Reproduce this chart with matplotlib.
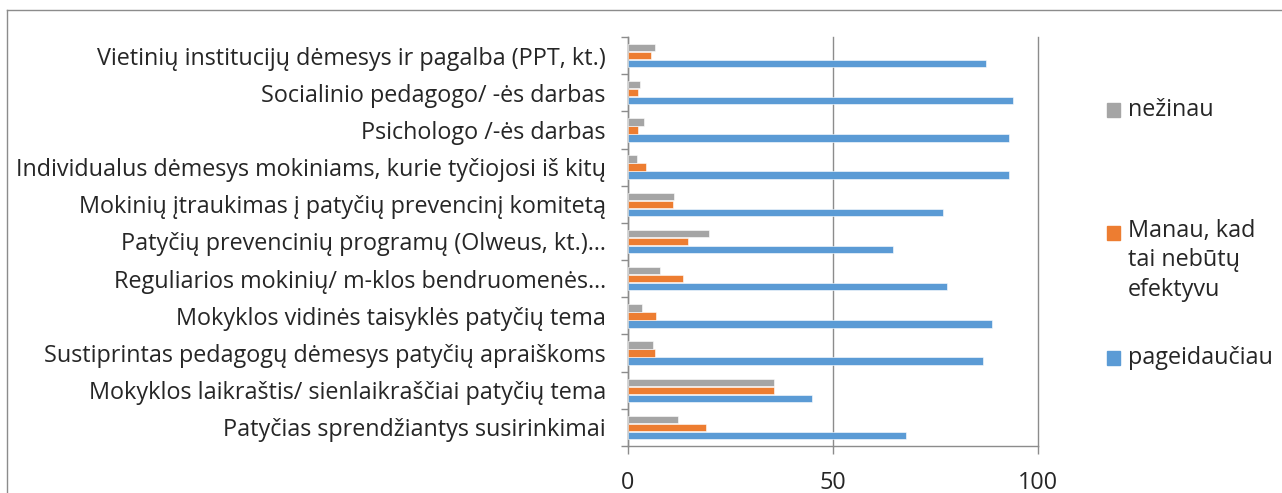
import numpy as np
import matplotlib.pyplot as plt
from matplotlib.patches import Rectangle
from matplotlib.lines import Line2D

# kategorijos (iš viršaus į apačią)
categories = [
    'Vietinių institucijų dėmesys ir pagalba (PPT, kt.)',
    'Socialinio pedagogo/ -ės darbas',
    'Psichologo /-ės darbas',
    'Individualus dėmesys mokiniams, kurie tyčiojosi iš kitų',
    'Mokinių įtraukimas į patyčių prevencinį komitetą',
    'Patyčių prevencinių programų (Olweus, kt.)…',
    'Reguliarios mokinių/ m-klos bendruomenės…',
    'Mokyklos vidinės taisyklės patyčių tema',
    'Sustiprintas pedagogų dėmesys patyčių apraiškoms',
    'Mokyklos laikraštis/ sienlaikraščiai patyčių tema',
    'Patyčias sprendžiantys susirinkimai',
]
pageidauciau = [87.3, 93.9, 92.9, 92.9, 76.9, 64.7, 77.9, 88.9, 86.7, 44.8, 67.8]
neefektyvu = [5.6, 2.5, 2.5, 4.4, 11.0, 14.7, 13.4, 6.9, 6.5, 35.7, 19.1]
nezinau = [6.5, 2.9, 3.8, 2.2, 11.3, 19.8, 7.8, 3.4, 6.0, 35.7, 12.2]

series = [
    ('pageidaučiau', pageidauciau, '#5B9BD5', -0.215),
    ('Manau, kad\ntai nebūtų\nefektyvu', neefektyvu, '#ED7D31', 0.0),
    ('nežinau', nezinau, '#A5A5A5', 0.215),
]

plt.rcParams['font.family'] = ['Open Sans', 'DejaVu Sans']
txt = '#262626'
grid = '#8C8C8C'
fs = 16.8

fig = plt.figure(figsize=(12.82, 4.93), dpi=100)
ax = fig.add_axes([628 / 1282, 1 - 446 / 493, 410 / 1282, 409 / 493])

n = len(categories)
y = np.arange(n)[::-1]  # pirmoji kategorija viršuje
for name, vals, col, off in series:
    ax.barh(y + off, vals, height=0.2, color=col, edgecolor='white', linewidth=0.4, zorder=3)

ax.set_xlim(0, 100)
ax.set_ylim(-0.5, n - 0.5)
ax.set_xticks([0, 50, 100])
ax.set_yticks(y)
ax.set_yticklabels(categories, fontsize=fs, color=txt)
ax.set_yticks(np.arange(n + 1) - 0.5, minor=True)
ax.tick_params(axis='y', which='major', length=0, pad=16)
ax.tick_params(axis='y', which='minor', length=5, color=grid, width=1)
ax.tick_params(axis='x', length=6, color=grid, width=1, pad=12, labelsize=fs, labelcolor=txt)

ax.grid(axis='x', color=grid, linewidth=1, zorder=0)
for gl in ax.get_xgridlines():
    gl.set_clip_on(False)
for s in ['top', 'right']:
    ax.spines[s].set_visible(False)
for s in ['left', 'bottom']:
    ax.spines[s].set_color(grid)
    ax.spines[s].set_linewidth(1)

# legenda
leg_items = [('nežinau', '#A5A5A5', 110), ('Manau, kad\ntai nebūtų\nefektyvu', '#ED7D31', 233),
             ('pageidaučiau', '#5B9BD5', 358)]
for label, col, py in leg_items:
    fig.patches.append(Rectangle((1107 / 1282, 1 - (py + 7) / 493), 13 / 1282, 14 / 493,
                                 transform=fig.transFigure, color=col))
    if '\n' in label:
        fig.text(1128 / 1282, 1 - (py - 14) / 493, label, fontsize=fs, color=txt, va='top', linespacing=1.3)
    else:
        fig.text(1128 / 1282, 1 - py / 493, label, fontsize=fs, color=txt, va='center')

# rėmelis
fig.add_artist(Line2D([7 / 1282, 7 / 1282], [0, 1 - 10 / 493], transform=fig.transFigure, color=grid, lw=1))
fig.add_artist(Line2D([7 / 1282, 1], [1 - 10 / 493, 1 - 10 / 493], transform=fig.transFigure, color=grid, lw=1))

fig.savefig('out.png', dpi=100)
